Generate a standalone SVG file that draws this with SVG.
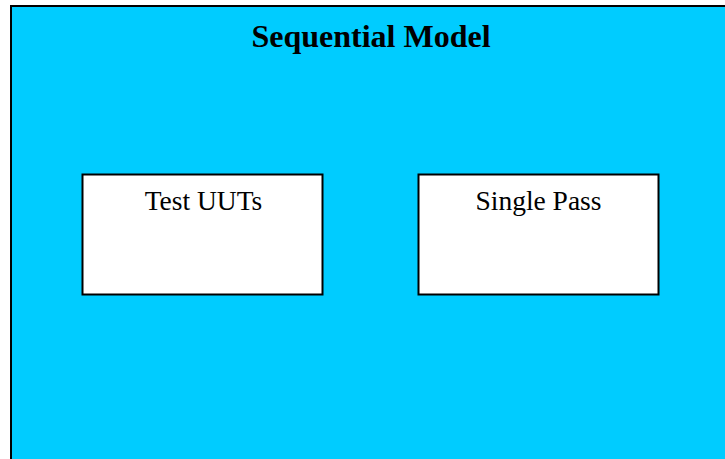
<svg xmlns="http://www.w3.org/2000/svg" width="725" height="459" viewBox="0 0 725 459">
<style>
.bg{fill:#00CCFF;stroke:#000;stroke-width:2}
.box{fill:#fff;stroke:#000;stroke-width:2}
.lbl{font-family:"Liberation Serif","Times New Roman",serif;font-size:27.5px;fill:#000;text-anchor:middle}
.title{font-family:"Liberation Serif","Times New Roman",serif;font-size:32px;font-weight:bold;fill:#000;text-anchor:middle}
</style>
<g id="model">
<rect class="bg" x="11" y="6" width="730" height="470"/>
<text class="title" x="371" y="47">Sequential Model</text>
</g>
<g id="test-uuts">
<rect class="box" x="82.5" y="174.5" width="240" height="120"/>
<text class="lbl" x="203.5" y="210">Test UUTs</text>
</g>
<g id="single-pass">
<rect class="box" x="418.5" y="174.5" width="240" height="120"/>
<text class="lbl" x="538.5" y="210">Single Pass</text>
</g>
<g id="connectors"></g>
</svg>
